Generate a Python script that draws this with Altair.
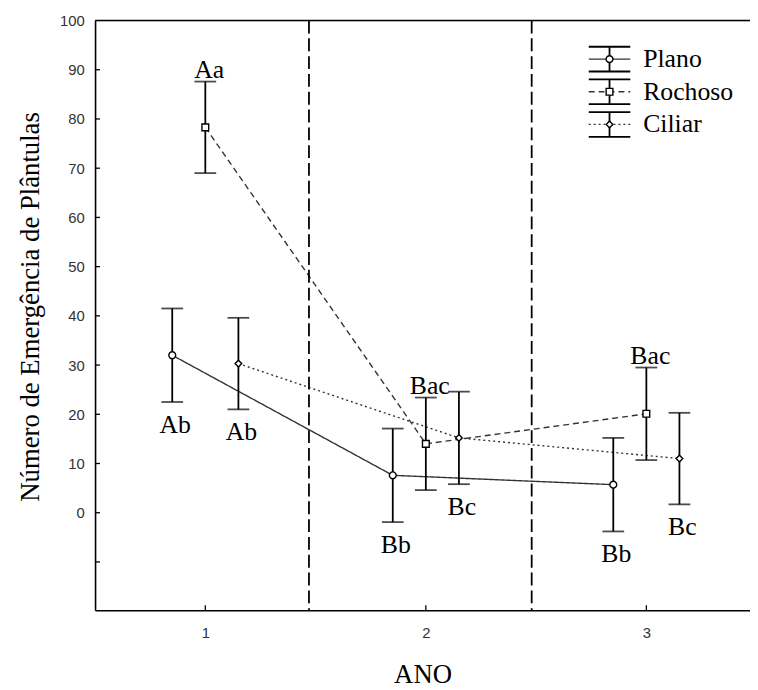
import altair as alt
import pandas as pd

# ---------------- data ----------------
years = [1, 2, 3]
series_names = ["Plano", "Rochoso", "Ciliar"]
plano_mean = [32.0, 7.6, 5.7]
plano_err = [9.5, 9.5, 9.5]
rochoso_mean = [78.3, 14.0, 20.1]
rochoso_err = [9.3, 9.4, 9.4]
ciliar_mean = [30.3, 15.2, 11.0]
ciliar_err = [9.3, 9.4, 9.3]
plano_letters = ["Ab", "Bb", "Bb"]
rochoso_letters = ["Aa", "Bac", "Bac"]
ciliar_letters = ["Ab", "Bc", "Bc"]
letter_side = {"Plano": "below", "Rochoso": "above", "Ciliar": "below"}
x_offsets = {"Plano": -0.15, "Rochoso": 0.0, "Ciliar": 0.15}
y_tick_values = [0, 10, 20, 30, 40, 50, 60, 70, 80, 90, 100]
y_extra_ticks = [-10]
x_tick_values = [1, 2, 3]
divider_positions = [1.47, 2.48]

# ---------------- layout ----------------
W, H = 662, 596
XD = [0.5, 3.47]
YD = [-19.8, 100]
SERIF = "Liberation Serif"
SANS = "Liberation Sans"
TXT = 26
TITLE = 27
LEG_TXT = 26

means = {"Plano": plano_mean, "Rochoso": rochoso_mean, "Ciliar": ciliar_mean}
errs = {"Plano": plano_err, "Rochoso": rochoso_err, "Ciliar": ciliar_err}
letters = {"Plano": plano_letters, "Rochoso": rochoso_letters, "Ciliar": ciliar_letters}

rows = []
for s in series_names:
    for i, yr in enumerate(years):
        m, e = means[s][i], errs[s][i]
        rows.append({"series": s, "ano": yr, "x": yr + x_offsets[s], "mean": m,
                     "lo": m - e, "hi": m + e, "letter": letters[s][i],
                     "side": letter_side[s]})
df = pd.DataFrame(rows)

x_scale = alt.Scale(domain=XD, nice=False, zero=False)
y_scale = alt.Scale(domain=YD, nice=False, zero=False)
dash_scale = alt.Scale(domain=series_names, range=[[1, 0], [6, 4], [2, 3]])
shape_scale = alt.Scale(domain=series_names, range=["circle", "square", "diamond"])
size_scale = alt.Scale(domain=series_names, range=[48, 45, 34])

x_axis = alt.Axis(values=x_tick_values, title="ANO", tickSize=0, grid=False,
                  domainColor="black", domainWidth=1.6,
                  labelFont=SANS, labelFontSize=15, labelColor="#333333",
                  labelPadding=16, titleFont=SERIF, titleFontSize=TITLE,
                  titleFontWeight="normal", titleColor="black", titlePadding=21)
y_axis = alt.Axis(values=y_tick_values, format="d", title="Número de Emergência de Plântulas",
                  tickSize=0, grid=False, domainColor="black", domainWidth=1.6,
                  labelFont=SANS, labelFontSize=15, labelColor="#333333",
                  labelPadding=11, titleFont=SERIF, titleFontSize=TITLE,
                  titleFontWeight="normal", titleColor="black", titlePadding=15,
                  titleY=H / 2 - 9)


def px_to_x(px):
    return XD[0] + px / W * (XD[1] - XD[0])


def py_to_y(py):
    return YD[1] - py / H * (YD[1] - YD[0])


def X(f):
    return alt.X(f, type="quantitative", scale=x_scale, axis=x_axis)


def Y(f):
    return alt.Y(f, type="quantitative", scale=y_scale, axis=y_axis)


base = alt.Chart(df)

lines = base.mark_line(color="#333333", strokeWidth=1.4).encode(
    x=X("x"), y=Y("mean"),
    strokeDash=alt.StrokeDash("series:N", scale=dash_scale, legend=None),
    detail="series:N",
    order="ano:Q",
)

bars = base.mark_rule(color="black", strokeWidth=1.8).encode(x=X("x"), y=Y("lo"), y2="hi")
cap_hi = base.mark_tick(orient="horizontal", size=22, thickness=1.8, color="black").encode(x=X("x"), y=Y("hi"))
cap_lo = base.mark_tick(orient="horizontal", size=22, thickness=1.8, color="black").encode(x=X("x"), y=Y("lo"))

points = base.mark_point(filled=True, fill="white", stroke="black", strokeWidth=1.4, opacity=1).encode(
    x=X("x"), y=Y("mean"),
    shape=alt.Shape("series:N", scale=shape_scale, legend=None),
    size=alt.Size("series:N", scale=size_scale, legend=None),
)

above = base.transform_filter(alt.datum.side == "above").mark_text(
    font=SERIF, fontSize=TXT, color="black", baseline="middle", dy=-12, dx=4
).encode(x=X("x"), y=Y("hi"), text="letter:N")
below = base.transform_filter(alt.datum.side == "below").mark_text(
    font=SERIF, fontSize=TXT, color="black", baseline="middle", dy=23, dx=3
).encode(x=X("x"), y=Y("lo"), text="letter:N")

# frame pieces
one = pd.DataFrame({"a": [0]})
top_border = alt.Chart(one).mark_rule(color="black", strokeWidth=1.6).encode(
    x=alt.value(0), x2=alt.value(W), y=alt.value(0))

ytick_df = pd.DataFrame({"v": y_extra_ticks + y_tick_values[:-1]})
yticks = alt.Chart(ytick_df).mark_rule(color="black", strokeWidth=1.3).encode(
    y=Y("v"), x=alt.value(0), x2=alt.value(5))
xtick_df = pd.DataFrame({"v": x_tick_values})
xticks = alt.Chart(xtick_df).mark_rule(color="black", strokeWidth=1.3).encode(
    x=X("v"), y=alt.value(H), y2=alt.value(H - 5))

div_df = pd.DataFrame({"d": divider_positions})
dividers = alt.Chart(div_df).mark_rule(color="black", strokeWidth=1.8, strokeDash=[13, 5]).encode(
    x=X("d"), y=alt.value(0), y2=alt.value(H))

# ---------------- manual legend ----------------
leg_rows = []
for i, s in enumerate(series_names):
    cy = 39 + 33 * i
    leg_rows.append({"series": s,
                     "x0": px_to_x(499), "x1": px_to_x(541), "xm": px_to_x(520),
                     "xt": px_to_x(554),
                     "yc": py_to_y(cy), "yt": py_to_y(cy - 12.5), "yb": py_to_y(cy + 12.5)})
leg = alt.Chart(pd.DataFrame(leg_rows))
leg_mid = leg.mark_rule(color="#333333", strokeWidth=1.4).encode(
    x=X("x0"), x2="x1", y=Y("yc"),
    strokeDash=alt.StrokeDash("series:N", scale=dash_scale, legend=None))
leg_top = leg.mark_rule(color="black", strokeWidth=1.8).encode(x=X("x0"), x2="x1", y=Y("yt"))
leg_bot = leg.mark_rule(color="black", strokeWidth=1.8).encode(x=X("x0"), x2="x1", y=Y("yb"))
leg_stem = leg.mark_rule(color="black", strokeWidth=1.8).encode(x=X("xm"), y=Y("yt"), y2="yb")
leg_pt = leg.mark_point(filled=True, fill="white", stroke="black", strokeWidth=1.4, opacity=1).encode(
    x=X("xm"), y=Y("yc"),
    shape=alt.Shape("series:N", scale=shape_scale, legend=None),
    size=alt.Size("series:N", scale=size_scale, legend=None))
leg_txt = leg.mark_text(font=SERIF, fontSize=LEG_TXT, color="black", align="left", baseline="middle").encode(
    x=X("xt"), y=Y("yc"), text="series:N")

chart = alt.layer(
    lines, dividers, top_border, yticks, xticks, bars, cap_hi, cap_lo, points, above, below,
    leg_mid, leg_top, leg_bot, leg_stem, leg_pt, leg_txt
).properties(
    width=W, height=H,
    autosize=alt.AutoSizeParams(type="none"),
    padding={"left": 88, "top": 9, "right": 0, "bottom": 77},
).configure_view(stroke=None).configure(background="white")

chart.save("out.html", embed_options={"renderer": "svg", "actions": False})
